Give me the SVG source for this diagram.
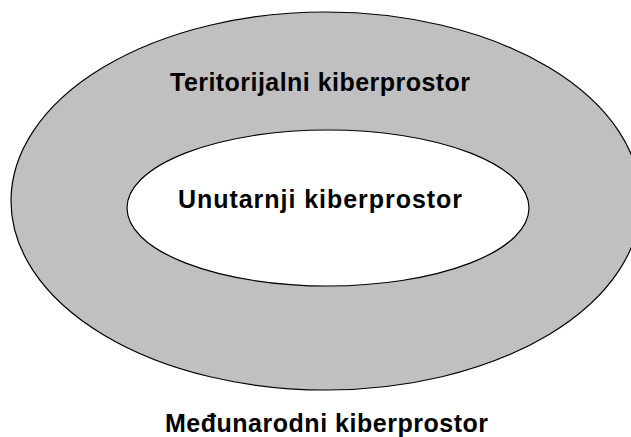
<svg xmlns="http://www.w3.org/2000/svg" width="631" height="437" viewBox="0 0 631 437">
  <style>
    .shape { stroke: #000000; stroke-width: 1.2; }
    .lbl { font-family: "Liberation Sans", Arial, sans-serif; font-weight: bold; font-size: 25px; fill: #000000; text-anchor: middle; }
  </style>
  <rect width="631" height="437" fill="#ffffff"/>
  <g id="teritorijalni">
    <ellipse class="shape" cx="326" cy="201" rx="315" ry="189" fill="#c0c0c0"/>
    <text class="lbl" x="320" y="91" textLength="300" lengthAdjust="spacing">Teritorijalni kiberprostor</text>
  </g>
  <g id="unutarnji">
    <ellipse class="shape" cx="328" cy="208" rx="201" ry="78" fill="#ffffff"/>
    <text class="lbl" x="320" y="208" textLength="284" lengthAdjust="spacing">Unutarnji kiberprostor</text>
  </g>
  <g id="medunarodni">
    <text class="lbl" x="326.5" y="432" textLength="323" lengthAdjust="spacing">Međunarodni kiberprostor</text>
  </g>
  <g id="connectors"></g>
</svg>
